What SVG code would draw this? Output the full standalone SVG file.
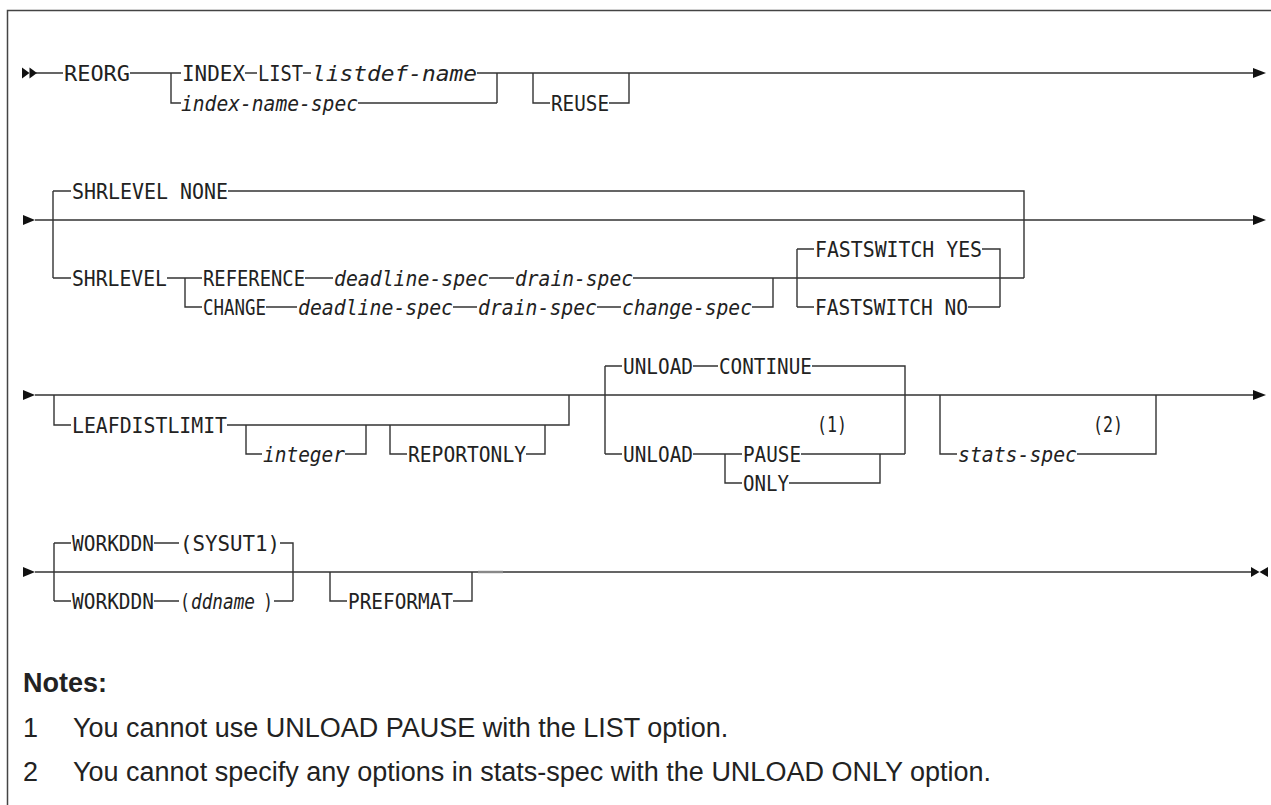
<svg xmlns="http://www.w3.org/2000/svg" width="1271" height="805" viewBox="0 0 1271 805">
<style>
.t{font-family:"DejaVu Sans Mono","Liberation Mono",monospace;font-size:20.5px;fill:#222}
.i{font-style:italic}
.c{fill:none;stroke:#333;stroke-width:1.4}
.a{fill:#111}
.n{font-family:"Liberation Sans",Arial,sans-serif;font-size:27px;fill:#222}
.b{font-weight:bold}
</style>
<rect width="1271" height="805" fill="#fff"/>
<path d="M7.5,805 V10.5 H1271" fill="none" stroke="#444" stroke-width="1.5"/>
<g id="connectors">
<path class="c" d="M36,73 H63 M130,73 H181 M171,73 V103 H181 M245,73 H257 M303,73 H311 M477,73 H1253 M497,73 V103 M358,103 H497 M533,73 V103 H550 M609,103 H629 V73"/>
<path class="c" d="M35,220 H1253 M53,191 V278 M53,191 H71 M228,191 H1024 V278 M53,278 H71 M167,278 H202 M185,278 V307 H202 M305,278 H333 M489,278 H514 M633,278 H1024 M266,307 H297 M453,307 H477 M597,307 H621 M752,307 H773 V278 M797,249 V307 M797,249 H814 M982,249 H1000 V307 M797,307 H814 M968,307 H1000"/>
<path class="c" d="M35,395 H1253 M54,395 V425 H71 M227,425 H569 V395 M246,425 V454 H262 M345,454 H366 V425 M390,425 V454 H407 M526,454 H545 V425 M605,366 V454 M605,366 H622 M693,366 H718 M812,366 H905 V454 M605,454 H622 M693,454 H742 M725,454 V483 H742 M801,454 H905 M789,483 H880 V454 M940,395 V454 H957 M1077,454 H1156 V395"/>
<path class="c" d="M35,572 H1252 M54,543 V601 M54,543 H71 M154,543 H179 M280,543 H293 V601 M54,601 H71 M154,601 H179 M274,601 H293 M330,572 V601 H347 M453,601 H472 V572"/>
<path d="M478,572 H503" stroke="#888" stroke-width="2.4"/>
<polygon class="a" points="22,67.5 29.5,73 22,78.5"/>
<polygon class="a" points="29.5,67.5 37,73 29.5,78.5"/>
<polygon class="a" points="1253,68 1266,73 1253,78"/>
<polygon class="a" points="23,215 35,220 23,225"/>
<polygon class="a" points="1253,215 1266,220 1253,225"/>
<polygon class="a" points="23,390 35,395 23,400"/>
<polygon class="a" points="1253,390 1266,395 1253,400"/>
<polygon class="a" points="23,567 35,572 23,577"/>
<polygon class="a" points="1251,567 1259.5,572 1251,577"/>
<polygon class="a" points="1268,567 1259.5,572 1268,577"/>
</g>
<g id="n-reorg"><text class="t" x="64" y="80.5" textLength="66" lengthAdjust="spacingAndGlyphs">REORG</text></g>
<g id="n-index"><text class="t" x="182" y="80.5" textLength="63" lengthAdjust="spacingAndGlyphs">INDEX</text></g>
<g id="n-list"><text class="t" x="258" y="80.5" textLength="45" lengthAdjust="spacingAndGlyphs">LIST</text></g>
<g id="n-listdef"><text class="t i" x="312" y="80.5" textLength="165" lengthAdjust="spacingAndGlyphs">listdef-name</text></g>
<g id="n-indexname"><text class="t i" x="181" y="110.5" textLength="177" lengthAdjust="spacingAndGlyphs">index-name-spec</text></g>
<g id="n-reuse"><text class="t" x="551" y="110.5" textLength="58" lengthAdjust="spacingAndGlyphs">REUSE</text></g>

<g id="n-shrnone"><text class="t" x="72" y="198.5" textLength="156" lengthAdjust="spacingAndGlyphs">SHRLEVEL NONE</text></g>
<g id="n-shrlevel"><text class="t" x="72" y="285.5" textLength="95" lengthAdjust="spacingAndGlyphs">SHRLEVEL</text></g>
<g id="n-reference"><text class="t" x="203" y="285.5" textLength="102" lengthAdjust="spacingAndGlyphs">REFERENCE</text></g>
<g id="n-deadline1"><text class="t i" x="334" y="285.5" textLength="155" lengthAdjust="spacingAndGlyphs">deadline-spec</text></g>
<g id="n-drain1"><text class="t i" x="515" y="285.5" textLength="118" lengthAdjust="spacingAndGlyphs">drain-spec</text></g>
<g id="n-change"><text class="t" x="203" y="314.5" textLength="63" lengthAdjust="spacingAndGlyphs">CHANGE</text></g>
<g id="n-deadline2"><text class="t i" x="298" y="314.5" textLength="155" lengthAdjust="spacingAndGlyphs">deadline-spec</text></g>
<g id="n-drain2"><text class="t i" x="478" y="314.5" textLength="119" lengthAdjust="spacingAndGlyphs">drain-spec</text></g>
<g id="n-changespec"><text class="t i" x="622" y="314.5" textLength="130" lengthAdjust="spacingAndGlyphs">change-spec</text></g>
<g id="n-fsyes"><text class="t" x="815" y="256.5" textLength="167" lengthAdjust="spacingAndGlyphs">FASTSWITCH YES</text></g>
<g id="n-fsno"><text class="t" x="815" y="314.5" textLength="153" lengthAdjust="spacingAndGlyphs">FASTSWITCH NO</text></g>

<g id="n-leaf"><text class="t" x="72" y="432.5" textLength="155" lengthAdjust="spacingAndGlyphs">LEAFDISTLIMIT</text></g>
<g id="n-integer"><text class="t i" x="263" y="461.5" textLength="82" lengthAdjust="spacingAndGlyphs">integer</text></g>
<g id="n-reportonly"><text class="t" x="408" y="461.5" textLength="118" lengthAdjust="spacingAndGlyphs">REPORTONLY</text></g>
<g id="n-unload1"><text class="t" x="623" y="373.5" textLength="70" lengthAdjust="spacingAndGlyphs">UNLOAD</text></g>
<g id="n-continue"><text class="t" x="719" y="373.5" textLength="93" lengthAdjust="spacingAndGlyphs">CONTINUE</text></g>
<g id="n-unload2"><text class="t" x="623" y="461.5" textLength="70" lengthAdjust="spacingAndGlyphs">UNLOAD</text></g>
<g id="n-pause"><text class="t" x="743" y="461.5" textLength="58" lengthAdjust="spacingAndGlyphs">PAUSE</text></g>
<g id="n-note1"><text class="t" x="817" y="432" textLength="30" lengthAdjust="spacingAndGlyphs">(1)</text></g>
<g id="n-only"><text class="t" x="743" y="490.5" textLength="46" lengthAdjust="spacingAndGlyphs">ONLY</text></g>
<g id="n-stats"><text class="t i" x="958" y="461.5" textLength="119" lengthAdjust="spacingAndGlyphs">stats-spec</text></g>
<g id="n-note2"><text class="t" x="1093" y="432" textLength="30" lengthAdjust="spacingAndGlyphs">(2)</text></g>

<g id="n-workddn1"><text class="t" x="72" y="550.5" textLength="82" lengthAdjust="spacingAndGlyphs">WORKDDN</text></g>
<g id="n-sysut1"><text class="t" x="180" y="550.5" textLength="100" lengthAdjust="spacingAndGlyphs">(SYSUT1)</text></g>
<g id="n-workddn2"><text class="t" x="72" y="608.5" textLength="82" lengthAdjust="spacingAndGlyphs">WORKDDN</text></g>
<g id="n-ddname">
<text class="t" x="180" y="608.5" textLength="10" lengthAdjust="spacingAndGlyphs">(</text>
<text class="t i" x="191" y="608.5" textLength="64" lengthAdjust="spacingAndGlyphs">ddname</text>
<text class="t" x="263" y="608.5" textLength="10" lengthAdjust="spacingAndGlyphs">)</text>
</g>
<g id="n-preformat"><text class="t" x="348" y="608.5" textLength="105" lengthAdjust="spacingAndGlyphs">PREFORMAT</text></g>

<g id="notes">
<text class="n b" x="23" y="692">Notes:</text>
<text class="n" x="23" y="737">1</text>
<text class="n" x="73" y="737">You cannot use UNLOAD PAUSE with the LIST option.</text>
<text class="n" x="23" y="781">2</text>
<text class="n" x="73" y="781">You cannot specify any options in stats-spec with the UNLOAD ONLY option.</text>
</g>
</svg>
